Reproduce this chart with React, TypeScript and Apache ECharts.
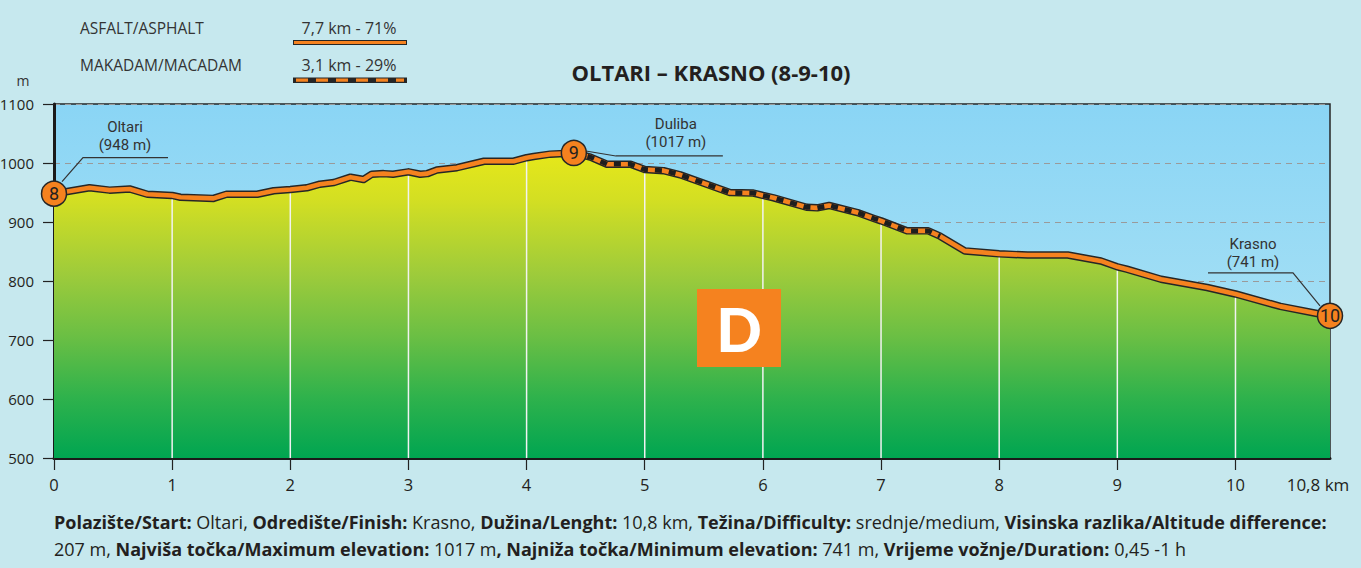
import React, { useEffect, useRef } from 'react';
import * as echarts from 'echarts';

// ---- data ----
const profileKm = [
  0, 0.3, 0.47, 0.64, 0.79, 1.0, 1.07, 1.35, 1.46, 1.72, 1.86, 2.0, 2.14, 2.25, 2.37, 2.51, 2.62, 2.69,
  2.79, 2.87, 3.0, 3.1, 3.16, 3.24, 3.41, 3.64, 3.89, 4.0, 4.06, 4.2, 4.4, 4.54, 4.68, 4.88, 5.0, 5.16,
  5.3, 5.72, 5.92, 6.0, 6.09, 6.37, 6.46, 6.56, 6.8, 6.94, 7.0, 7.22, 7.4, 7.5, 7.71, 8.0, 8.24, 8.58,
  8.86, 9.0, 9.08, 9.37, 9.76, 10.0, 10.38, 10.69, 10.8,
];
const profileElev = [
  948, 958, 954, 956, 947, 945, 942, 940, 947, 947, 953, 955, 958, 964, 967, 976, 972, 981,
  982, 981, 985, 981, 982, 988, 992, 1003, 1003, 1009, 1011, 1015, 1017, 1010, 998, 998, 989, 987,
  980, 950, 949, 945, 941, 925, 924, 928, 916, 906, 902, 885, 885, 876, 851, 846, 844, 844,
  834, 824, 820, 803, 789, 778, 757, 745, 741,
];
const macadamStartKm = 4.4;
const macadamEndKm = 7.5;

const waypointKm = [0, 4.4, 10.8];
const waypointElev = [948, 1017, 741];
const waypointNum = ['8', '9', '10'];
const waypointName = ['Oltari', 'Duliba', 'Krasno'];

const kmTicks = [0, 1, 2, 3, 4, 5, 6, 7, 8, 9, 10];
const kmLabels = [0, 1, 2, 3, 4, 5, 6, 7, 8, 9, 10, 10.8];
const kmMax = 10.8;
const elevMin = 500;
const elevMax = 1100;
const elevStep = 100;

const titleText = 'OLTARI – KRASNO (8-9-10)';
const legendNames = ['ASFALT/ASPHALT', 'MAKADAM/MACADAM'];
const legendValues = ['7,7 km - 71%', '3,1 km - 29%'];
const difficulty = 'D';
const infoLine1 =
  '{b|Polazište/Start:} Oltari, {b|Odredište/Finish:} Krasno, {b|Dužina/Lenght:} 10,8 km, {b|Težina/Difficulty:} srednje/medium, {b|Visinska razlika/Altitude difference:}';
const infoLine2 =
  '207 m, {b|Najviša točka/Maximum elevation:} 1017 m{b|, Najniža točka/Minimum elevation:} 741 m, {b|Vrijeme vožnje/Duration:} 0,45 -1 h';

// ---- styles / layout ----
const ORANGE = '#f5821f';
const DARK = '#262626';
const FONT = '"Open Sans", "Noto Sans", sans-serif';
const LABEL_FONT = 'Roboto, "Open Sans", sans-serif';

const calloutLayout = [
  { line: [[8, -12], [29, -36], [114, -36]], text: [71, -58] },
  { line: [[12, -2], [42, 3], [149, 3]], text: [102, -20] },
  { line: [[-10, -10], [-37, -43], [-122, -43]], text: [-77, -63] },
];

const profile = profileKm.map((k, i) => [k, profileElev[i]]);
const macadam = profile.filter((p) => p[0] >= macadamStartKm - 1e-9 && p[0] <= macadamEndKm + 1e-9);
const whiteLines = kmTicks
  .filter((k) => k > 0)
  .map((k) => {
    const idx = profileKm.findIndex((v) => Math.abs(v - k) < 1e-9);
    return [k, profileElev[idx]];
  });

function centered(x: number, y: number, text: string, font: string, fill: string, align = 'center'): any {
  return {
    type: 'text', x, y, z: 10,
    style: { text, font, fill, align, verticalAlign: 'middle', textAlign: align, textVerticalAlign: 'middle' },
  };
}

function staticGraphics(): any[] {
  const g: any[] = [];
  g.push(centered(711, 72, titleText, `bold 22px ${FONT}`, '#231f20'));
  legendNames.forEach((n, i) => {
    const y = i === 0 ? 28 : 65;
    g.push(centered(80, y, n, `15.5px ${FONT}`, '#333', 'left'));
    g.push(centered(349, y, legendValues[i], `16px ${FONT}`, '#333'));
  });
  g.push({ type: 'rect', z: 10, shape: { x: 293, y: 40, width: 114, height: 5 }, style: { fill: DARK } });
  g.push({ type: 'line', z: 11, shape: { x1: 294, y1: 42.5, x2: 406, y2: 42.5 }, style: { stroke: ORANGE, lineWidth: 3 } });
  g.push({ type: 'rect', z: 10, shape: { x: 293, y: 77.5, width: 114, height: 5.5 }, style: { fill: DARK } });
  g.push({ type: 'line', z: 11, shape: { x1: 296, y1: 80.2, x2: 404, y2: 80.2 }, style: { stroke: ORANGE, lineWidth: 3.2, lineDash: [12, 8] } });
  g.push(centered(23, 80, 'm', `14px ${FONT}`, '#333'));
  g.push({ type: 'rect', z: 10, shape: { x: 697, y: 289, width: 84, height: 78 }, style: { fill: ORANGE } });
  const d = centered(739, 329, difficulty, `900 60px Lato, ${FONT}`, '#ffffff');
  d.z = 11;
  g.push(d);
  const rich = { b: { fontWeight: 'bold', fontSize: 18, fontFamily: FONT, fill: '#231f20', color: '#231f20' } };
  [infoLine1, infoLine2].forEach((t, i) => {
    g.push({
      type: 'text', x: 54, y: i === 0 ? 522 : 549, z: 10,
      style: { text: t, rich, fontSize: 18, fontFamily: FONT, fill: '#231f20', align: 'left', verticalAlign: 'middle', textAlign: 'left', textVerticalAlign: 'middle' },
    });
  });
  return g;
}

export default function App() {
  const ref = useRef<HTMLDivElement>(null);
  useEffect(() => {
    if (!ref.current) return;
    const chart = echarts.init(ref.current, null, { renderer: 'svg' });
    const areaGradient = new echarts.graphic.LinearGradient(0, 0, 0, 1, [
      { offset: 0, color: '#e6e81a' },
      { offset: 0.15, color: '#d4df22' },
      { offset: 0.4, color: '#9dcb3b' },
      { offset: 0.6, color: '#6bbf44' },
      { offset: 0.8, color: '#2fb24c' },
      { offset: 1, color: '#00a551' },
    ]);
    const skyGradient = new echarts.graphic.LinearGradient(0, 0, 0, 1, [
      { offset: 0, color: '#8ad5f5' },
      { offset: 1, color: '#b3e5f4' },
    ]);
    chart.setOption({
      animation: false,
      backgroundColor: '#c6e8ee',
      grid: {
        left: 54, right: 31, top: 104, bottom: 110, containLabel: false, outerBoundsMode: 'none',
        show: true, backgroundColor: skyGradient, borderColor: DARK, borderWidth: 1.5,
      },
      xAxis: {
        type: 'value', min: 0, max: kmMax, interval: 1,
        axisLine: { show: true, onZero: false, lineStyle: { color: '#1a1a1a', width: 3 } },
        axisTick: { show: true, length: 12, customValues: kmTicks, lineStyle: { color: '#222', width: 1.2 } },
        axisLabel: {
          customValues: kmLabels, margin: 18, fontSize: 16.5, fontFamily: FONT, color: '#231f20',
          formatter: (v: number) => (Math.abs(v - kmMax) < 1e-6 ? '{e|10,8 km}' : String(v)),
          rich: { e: { fontSize: 17, fontFamily: FONT, color: '#231f20', padding: [0, 24, 0, 0] } },
        },
        splitLine: { show: false },
      },
      yAxis: {
        type: 'value', min: elevMin, max: elevMax, interval: elevStep,
        axisLine: { show: true, lineStyle: { color: '#1a1a1a', width: 3 } },
        axisTick: { show: true, length: 11, lineStyle: { color: '#222', width: 1.2 } },
        axisLabel: { margin: 20, fontSize: 15, fontFamily: FONT, color: '#231f20', formatter: (v: number) => String(v) },
        splitLine: { show: true, lineStyle: { color: '#9a9a9a', width: 1, type: [6, 5] } },
      },
      series: [
        {
          name: 'terrain', type: 'line', data: profile, showSymbol: false, z: 1,
          lineStyle: { width: 0 }, areaStyle: { color: areaGradient, opacity: 1 },
        },
        {
          name: 'km', type: 'custom', data: whiteLines, z: 2, clip: true,
          renderItem: (_p: any, api: any) => {
            const top = api.coord([api.value(0), api.value(1)]);
            const bot = api.coord([api.value(0), elevMin]);
            return {
              type: 'line',
              shape: { x1: top[0], y1: top[1], x2: bot[0], y2: bot[1] },
              style: { stroke: '#f2f2f2', lineWidth: 1.5 },
            };
          },
        },
        {
          name: 'outline', type: 'line', data: profile, showSymbol: false, z: 3,
          lineStyle: { color: DARK, width: 7.5, join: 'round', cap: 'round' },
        },
        {
          name: 'asfalt', type: 'line', data: profile, showSymbol: false, z: 4,
          lineStyle: { color: ORANGE, width: 4.6, join: 'round' },
        },
        {
          name: 'makadam', type: 'line', data: macadam, showSymbol: false, z: 5,
          lineStyle: { color: '#1e1e1e', width: 4.8, type: [7, 7] },
        },
        {
          name: 'points', type: 'scatter', z: 8, clip: false,
          data: waypointKm.map((k, i) => [k, waypointElev[i]]),
          symbol: 'circle', symbolSize: 25,
          itemStyle: { color: ORANGE, borderColor: DARK, borderWidth: 1.5, opacity: 1 },
          label: {
            show: true, position: 'inside', fontSize: 18, fontFamily: LABEL_FONT, color: '#231f20',
            formatter: (p: any) => waypointNum[p.dataIndex],
          },
        },
      ],
    });

    const g = staticGraphics();
    waypointKm.forEach((k, i) => {
      const px = chart.convertToPixel({ gridIndex: 0 }, [k, waypointElev[i]]) as number[];
      const lay = calloutLayout[i];
      g.push({
        type: 'polyline', z: 7,
        shape: { points: lay.line.map((p) => [px[0] + p[0], px[1] + p[1]]) },
        style: { stroke: '#333', lineWidth: 1.2, fill: null },
      });
      g.push({
        type: 'text', z: 7, x: px[0] + lay.text[0], y: px[1] + lay.text[1],
        style: {
          text: `${waypointName[i]}\n(${waypointElev[i]} m)`, font: `15px ${LABEL_FONT}`, lineHeight: 18,
          fill: '#333', align: 'center', verticalAlign: 'middle', textAlign: 'center', textVerticalAlign: 'middle',
        },
      });
    });
    chart.setOption({ graphic: g });
    return () => chart.dispose();
  }, []);
  return <div ref={ref} style={{ position: 'fixed', left: 0, top: 0, width: 1361, height: 568 }} />;
}
